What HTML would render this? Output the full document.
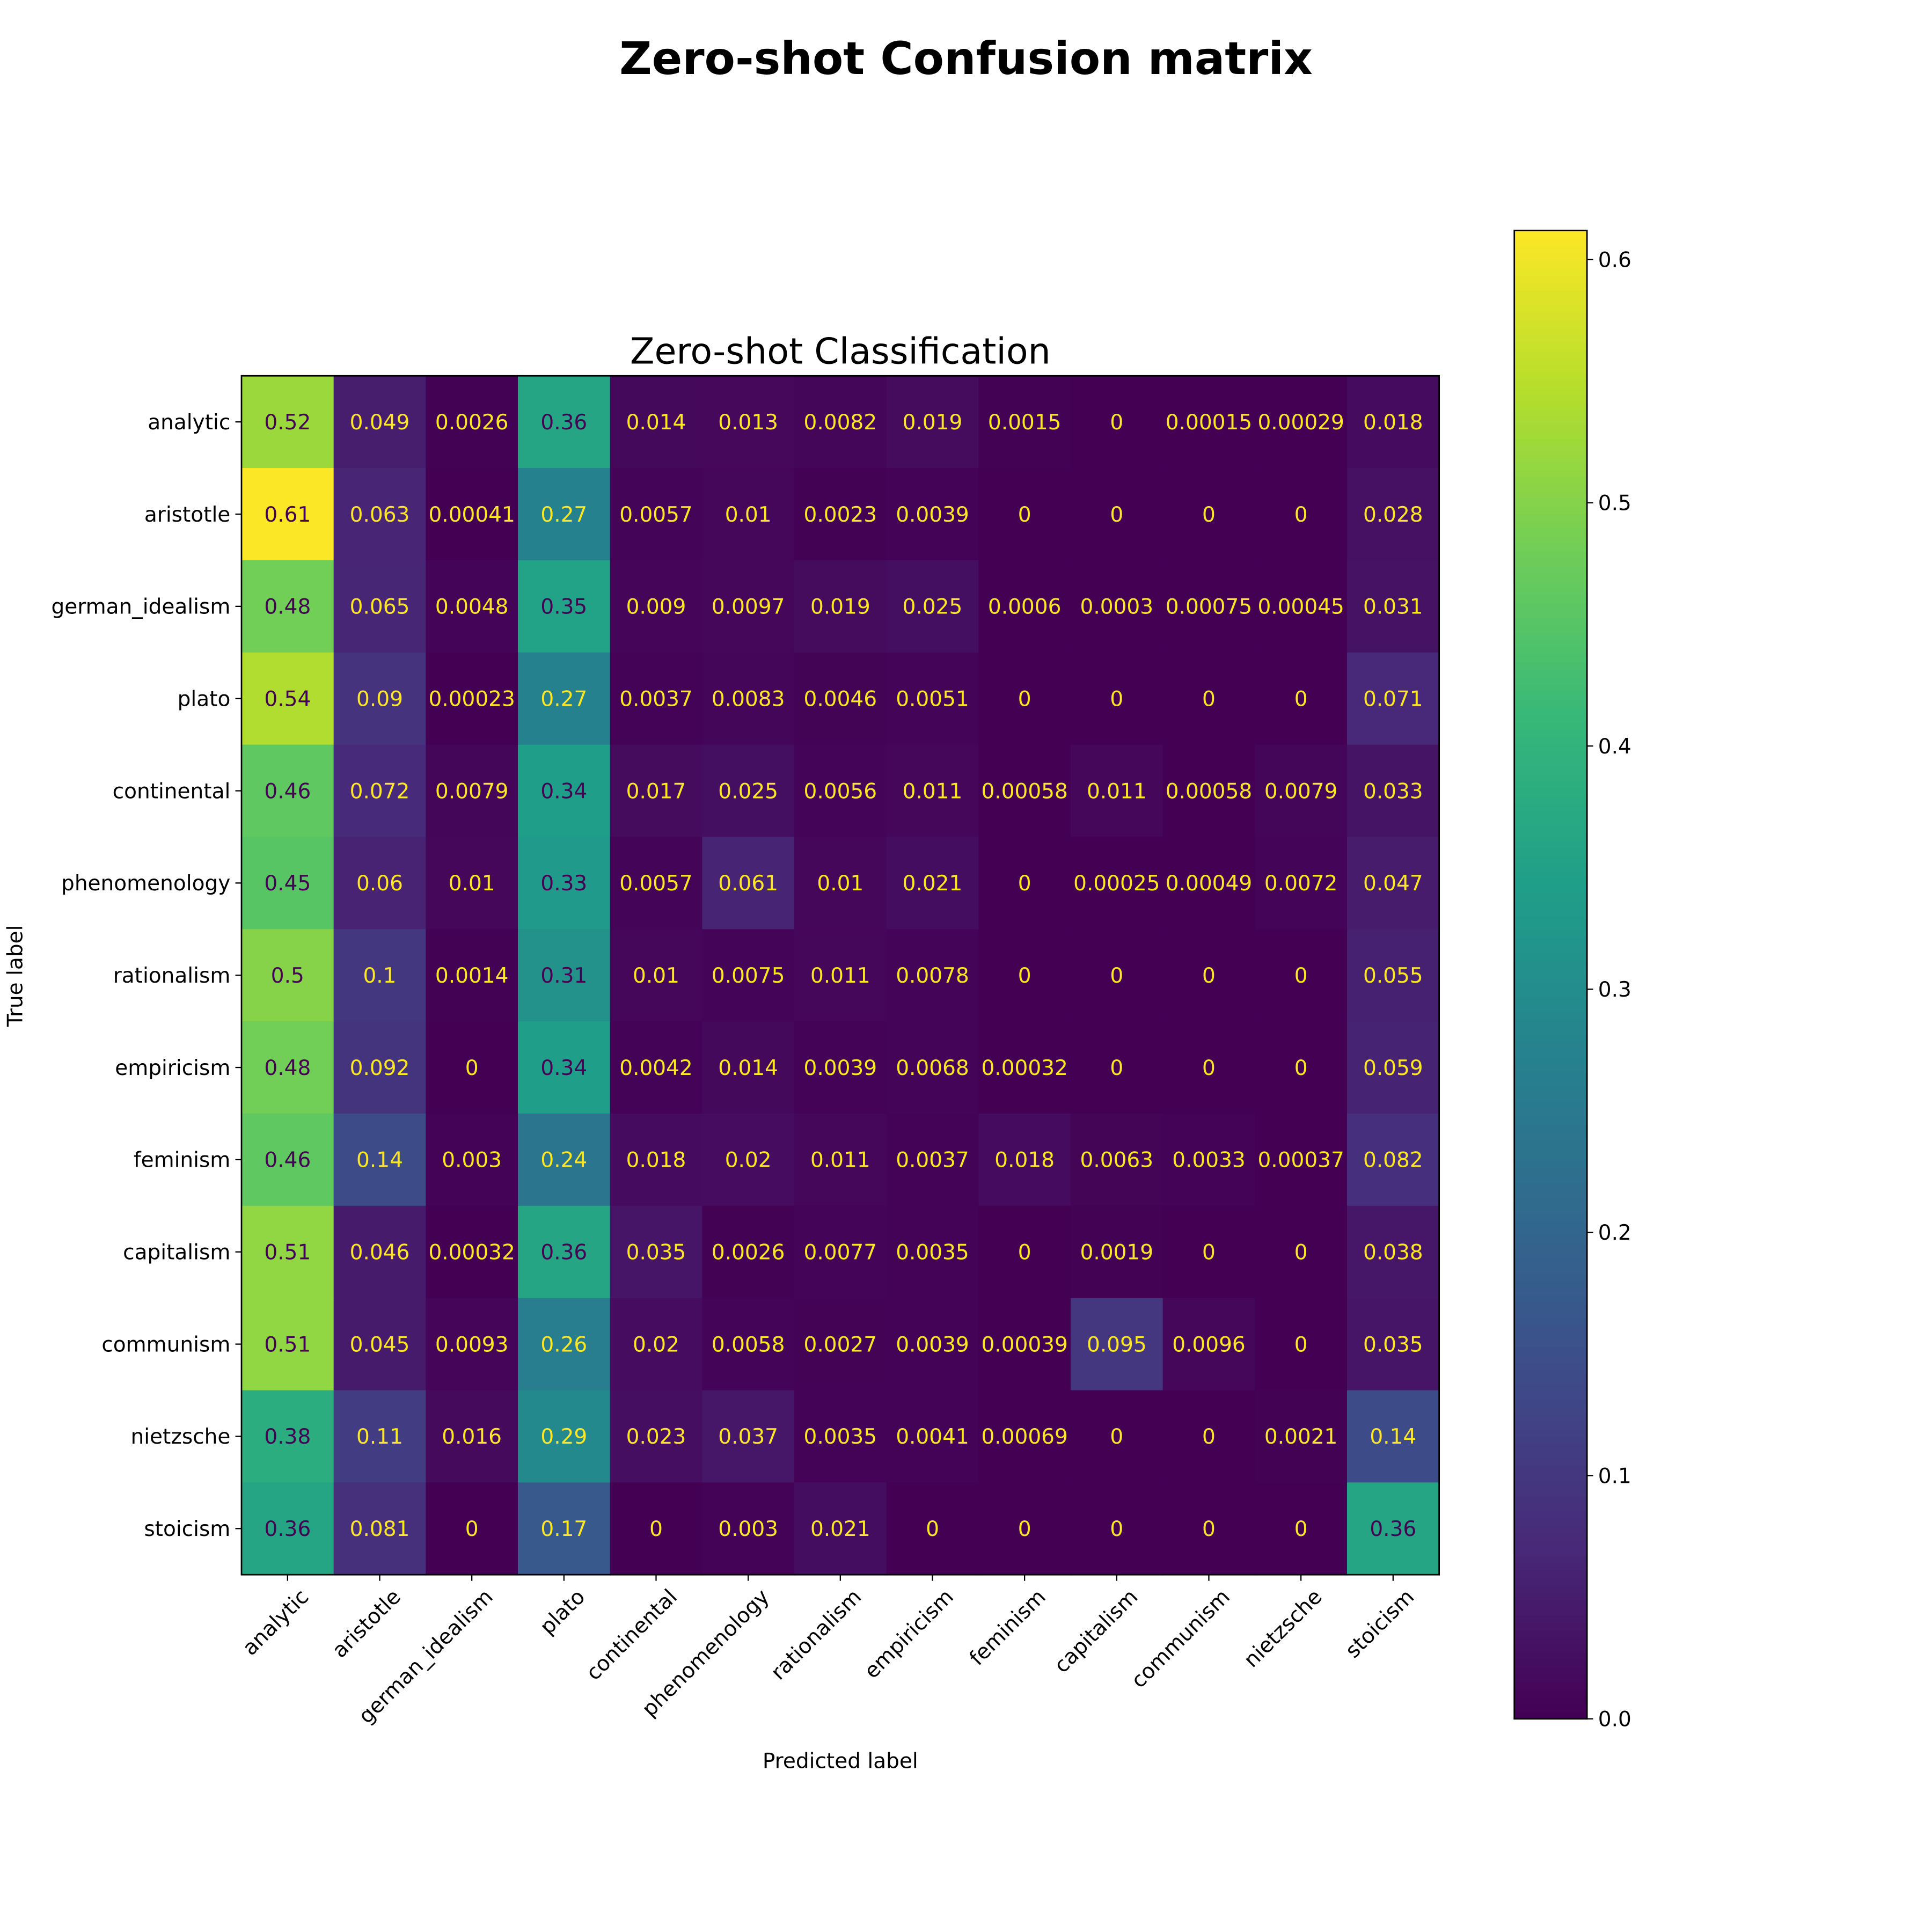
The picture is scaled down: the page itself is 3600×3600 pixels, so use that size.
<!DOCTYPE html>
<html><head><meta charset="utf-8"><style>html,body{margin:0;padding:0;background:#fff}svg{display:block}</style></head>
<body>
<svg id="chart" width="3600" height="3600" viewBox="0 0 1568 1568" xmlns="http://www.w3.org/2000/svg" font-family="'DejaVu Sans','Liberation Sans',sans-serif">
<text x="784" y="60" text-anchor="middle" font-size="36.4" font-weight="bold">Zero-shot Confusion matrix</text>
<text x="682" y="295" text-anchor="middle" font-size="29">Zero-shot Classification</text>
<g id="cells"></g>
<g id="axes"></g>
<rect x="196" y="305" width="972" height="973" fill="none" stroke="#000" stroke-width="1.2"/>
<text x="682" y="1435" text-anchor="middle" font-size="17">Predicted label</text>
<text transform="translate(18,792) rotate(-90)" text-anchor="middle" font-size="17">True label</text>
<g id="cbar"></g>
</svg>
<script>
const labels = ["analytic","aristotle","german_idealism","plato","continental","phenomenology","rationalism","empiricism","feminism","capitalism","communism","nietzsche","stoicism"];
const values = [
[0.52,0.049,0.0026,0.36,0.014,0.013,0.0082,0.019,0.0015,0,0.00015,0.00029,0.018],
[0.61,0.063,0.00041,0.27,0.0057,0.01,0.0023,0.0039,0,0,0,0,0.028],
[0.48,0.065,0.0048,0.35,0.009,0.0097,0.019,0.025,0.0006,0.0003,0.00075,0.00045,0.031],
[0.54,0.09,0.00023,0.27,0.0037,0.0083,0.0046,0.0051,0,0,0,0,0.071],
[0.46,0.072,0.0079,0.34,0.017,0.025,0.0056,0.011,0.00058,0.011,0.00058,0.0079,0.033],
[0.45,0.06,0.01,0.33,0.0057,0.061,0.01,0.021,0,0.00025,0.00049,0.0072,0.047],
[0.5,0.1,0.0014,0.31,0.01,0.0075,0.011,0.0078,0,0,0,0,0.055],
[0.48,0.092,0,0.34,0.0042,0.014,0.0039,0.0068,0.00032,0,0,0,0.059],
[0.46,0.14,0.003,0.24,0.018,0.02,0.011,0.0037,0.018,0.0063,0.0033,0.00037,0.082],
[0.51,0.046,0.00032,0.36,0.035,0.0026,0.0077,0.0035,0,0.0019,0,0,0.038],
[0.51,0.045,0.0093,0.26,0.02,0.0058,0.0027,0.0039,0.00039,0.095,0.0096,0,0.035],
[0.38,0.11,0.016,0.29,0.023,0.037,0.0035,0.0041,0.00069,0,0,0.0021,0.14],
[0.36,0.081,0,0.17,0,0.003,0.021,0,0,0,0,0,0.36]
];
const cbTicks = [0,0.1,0.2,0.3,0.4,0.5,0.6];
const vmin = 0, vmax = 0.612;

const NS="http://www.w3.org/2000/svg";
const vir=[[68,1,84],[72,40,120],[62,74,137],[49,104,142],[38,130,142],[31,158,137],[53,183,121],[109,205,89],[180,222,44],[253,231,37]];
function viridis(t){t=Math.max(0,Math.min(1,t));const p=t*(vir.length-1);const i=Math.min(vir.length-2,Math.floor(p));const f=p-i;const c=vir[i].map((a,k)=>Math.round(a+(vir[i+1][k]-a)*f));return `rgb(${c[0]},${c[1]},${c[2]})`;}
const X0=196,Y0=305,W=972,H=973,n=labels.length,cw=W/n,ch=H/n;
const xPos=j=>X0+cw*(j+0.5), yPos=i=>Y0+ch*(i+0.5);
function mk(tag,attrs,parent){const e=document.createElementNS(NS,tag);for(const k in attrs)e.setAttribute(k,attrs[k]);parent.appendChild(e);return e;}
const cells=document.getElementById('cells'), axes=document.getElementById('axes'), cbar=document.getElementById('cbar');
const thresh=(vmin+vmax)/2;
for(let i=0;i<n;i++){for(let j=0;j<n;j++){
  const v=values[i][j];
  const r=mk('rect',{x:X0+cw*j,y:Y0+ch*i,width:cw+0.6,height:ch+0.6,fill:viridis((v-vmin)/(vmax-vmin))},cells);
  
  
  const t=mk('text',{x:xPos(j),y:yPos(i)+6,'text-anchor':'middle','font-size':17,fill:v>=thresh?'rgb(68,1,84)':'rgb(253,231,37)'},cells);
  t.textContent=String(v);
  
  
}}
for(let k=0;k<n;k++){
  mk('line',{x1:X0-5,x2:X0,y1:yPos(k),y2:yPos(k),stroke:'#000'},axes);
  const yl=mk('text',{x:X0-9,y:yPos(k)+6,'text-anchor':'end','font-size':17},axes);
  yl.textContent=labels[k];
  
  
  mk('line',{x1:xPos(k),x2:xPos(k),y1:Y0+H,y2:Y0+H+5,stroke:'#000'},axes);
  const xl=mk('text',{transform:`translate(${xPos(k)+18},${Y0+H+19}) rotate(-45)`,'text-anchor':'end','font-size':17},axes);
  xl.textContent=labels[k];
  
  
}
const CX=1229,CW=59,CB=1395,CT=187;
const cy=v=>CB-(v-vmin)/(vmax-vmin)*(CB-CT);
const steps=200;
for(let s=0;s<steps;s++){
  const v0=vmin+(vmax-vmin)*s/steps, v1=vmin+(vmax-vmin)*(s+1)/steps;
  const r=mk('rect',{x:CX,y:cy(v1),width:CW,height:cy(v0)-cy(v1)+0.5,fill:viridis((v0-vmin)/(vmax-vmin))},cbar);
  
  
}
const cf=mk('rect',{x:CX,y:CT,width:CW,height:CB-CT,fill:'none',stroke:'#000','stroke-width':1.2},cbar);


cbTicks.forEach(v=>{
  mk('line',{x1:CX+CW,x2:CX+CW+5,y1:cy(v),y2:cy(v),stroke:'#000'},cbar);
  const t=mk('text',{x:CX+CW+9,y:cy(v)+6,'font-size':17},cbar);
  t.textContent=v.toFixed(1);
  
  
});
</script>
</body></html>
